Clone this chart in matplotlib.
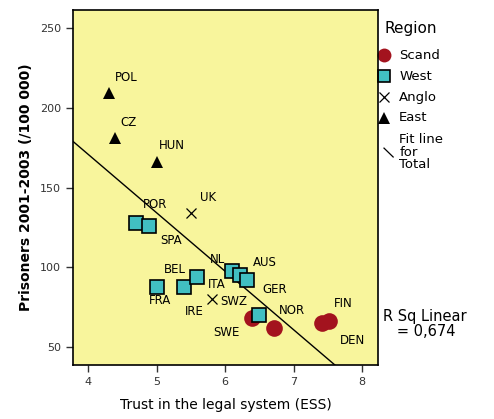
import matplotlib
matplotlib.use('Agg')
import matplotlib.pyplot as plt
import numpy as np

# Trust in legal system (ESS) vs prisoners per 100 000, by region
COUNTRIES = ['POL', 'CZ', 'HUN', 'UK', 'POR', 'SPA', 'NL', 'AUS', 'GER',
             'BEL', 'ITA', 'FRA', 'IRE', 'SWZ', 'SWE', 'NOR', 'FIN', 'DEN']
REGION = ['East', 'East', 'East', 'Anglo', 'West', 'West', 'West', 'West', 'West',
          'West', 'West', 'West', 'Anglo', 'West', 'Scand', 'Scand', 'Scand', 'Scand']
TRUST = [4.31, 4.39, 5.00, 5.50, 4.70, 4.89, 6.10, 6.22, 6.32,
         5.40, 5.59, 5.00, 5.81, 6.50, 6.39, 6.71, 7.52, 7.42]
PRISONERS = [209, 181, 166, 134, 128, 126, 98, 95, 92,
             88, 94, 88, 80, 70, 68.5, 62, 66.5, 65]
R_SQ = '0,674'

# label offsets in pixels (dx, dy) from each point
LABEL_OFFSET = {
    'POL': (17, 16), 'CZ': (14, 15), 'HUN': (15, 16), 'UK': (17, 16),
    'POR': (19, 18), 'SPA': (22, -15), 'NL': (-15, 11), 'AUS': (25, 13),
    'GER': (28, -9), 'BEL': (-9, 17), 'ITA': (20, -7), 'FRA': (3, -14),
    'IRE': (-18, -12), 'SWZ': (-26, 14), 'SWE': (-25, -15), 'NOR': (18, 18),
    'FIN': (14, 17), 'DEN': (30, -17),
}

STYLE = {
    'Scand': dict(marker='o', ms=12, mfc='#A3131E', mec='#A3131E', mew=0),
    'West':  dict(marker='s', ms=10.5, mfc='#41BFC2', mec='black', mew=1.2),
    'Anglo': dict(marker='x', ms=6.5, mfc='none', mec='black', mew=0.9),
    'East':  dict(marker='^', ms=8, mfc='black', mec='black', mew=0),
}

fig = plt.figure(figsize=(4.94, 4.19), dpi=100)
ax = fig.add_axes([0.148, 0.129, 0.617, 0.847])
ax.set_facecolor('#F8F59C')

trust = np.array(TRUST)
pris = np.array(PRISONERS)

# regression line over whole sample
slope, icpt = np.polyfit(trust, pris, 1)
xs = np.array([3.6, 8.5])
ax.plot(xs, slope * xs + icpt, color='black', lw=1.0, zorder=2)

for reg in ['Scand', 'West', 'Anglo', 'East']:
    idx = [i for i, r in enumerate(REGION) if r == reg]
    ax.plot(trust[idx], pris[idx], ls='none', zorder=3, **STYLE[reg])

for i, c in enumerate(COUNTRIES):
    dx, dy = LABEL_OFFSET[c]
    ax.annotate(c, (trust[i], pris[i]), xytext=(dx * 0.72, dy * 0.72),
                textcoords='offset points', ha='center', va='center',
                fontsize=8.5, color='black')

ax.set_xlim(3.78, 8.23)
ax.set_ylim(39, 261)
ax.set_xticks([4, 5, 6, 7, 8])
ax.set_yticks([50, 100, 150, 200, 250])
ax.tick_params(direction='out', length=5, width=1, labelsize=8, colors='#333333')
for s in ax.spines.values():
    s.set_linewidth(1.2)
ax.set_xlabel('Trust in the legal system (ESS)', fontsize=10, labelpad=8)
ax.set_ylabel('Prisoners 2001-2003 (/100 000)', fontsize=10, fontweight='bold',
              labelpad=5)

# legend drawn by hand to the right of the axes
ax.text(1.023, 0.949, 'Region', transform=ax.transAxes, fontsize=11,
        va='center', ha='left')
leg_y = [0.873, 0.814, 0.755, 0.696]
for reg, y in zip(['Scand', 'West', 'Anglo', 'East'], leg_y):
    st = dict(STYLE[reg])
    if reg == 'Scand':
        st['ms'] = 10
    elif reg == 'West':
        st['ms'] = 8
    ax.plot([1.02], [y], transform=ax.transAxes, clip_on=False, ls='none', **st)
    ax.text(1.07, y, reg, transform=ax.transAxes, fontsize=9.5, va='center')
ax.plot([1.02, 1.05], [0.611, 0.586], transform=ax.transAxes, clip_on=False,
        color='black', lw=0.9)
ax.text(1.07, 0.600, 'Fit line\nfor\nTotal', transform=ax.transAxes,
        fontsize=9.5, va='center', linespacing=0.95)
ax.text(1.016, 0.115, 'R Sq Linear\n   = ' + R_SQ, transform=ax.transAxes,
        fontsize=10.5, va='center', linespacing=0.95)

fig.savefig('out.png', dpi=100)
